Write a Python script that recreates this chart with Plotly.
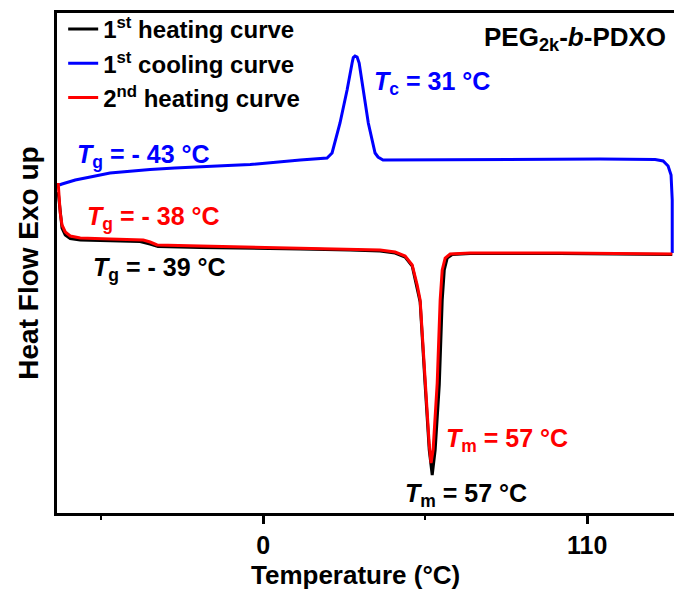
import plotly.graph_objects as go

# 1st heating curve (black)
heat1_T = [-69.6, -68.9, -68.3, -67.2, -65.5, -62.1, -52.0, -41.8, -38.4, -35.7, -21.4, -4.4, 12.6, 29.5,
           39.7, 44.8, 48.2, 50.6, 52.3, 53.3, 55.0, 56.4, 57.4, 58.4, 59.8, 60.8, 61.5, 62.5, 64.2, 70.3,
           100.8, 138.9]
heat1_Y = [64.2, 59.6, 57.0, 55.6, 54.9, 54.6, 54.5, 54.3, 53.8, 53.3, 53.1, 53.0, 52.8, 52.6,
           52.4, 52.0, 51.2, 49.4, 45.2, 42.2, 25.6, 12.6, 7.6, 12.6, 25.6, 42.6, 48.6, 51.0, 51.7, 51.9,
           51.9, 51.7]

# 1st cooling curve (blue)
cool_T = [138.9, 138.9, 138.5, 137.5, 135.8, 133.1, 114.4, 80.5, 53.3, 43.1, 40.7, 39.0, 38.0, 35.7, 34.0,
          32.6, 31.9, 31.2, 30.6, 30.2, 28.5, 26.1, 23.4, 21.7, 12.6, 4.0, -4.4, -12.0, -21.4, -30.0, -38.4,
          -45.0, -52.0, -58.7, -63.8, -68.3, -69.3]
cool_Y = [52.0, 62.6, 67.6, 69.4, 70.4, 70.7, 70.8, 70.7, 70.6, 70.5, 70.6, 71.2, 72.0, 78.0, 84.6,
          90.0, 91.2, 91.4, 91.1, 90.0, 84.6, 78.0, 72.0, 71.0, 70.6, 70.1, 69.7, 69.5, 69.3, 69.0, 68.7,
          68.4, 68.0, 67.2, 66.6, 65.8, 65.6]

# 2nd heating curve (red)
heat2_T = [-69.6, -69.3, -68.9, -68.3, -67.2, -65.5, -62.1, -52.0, -40.7, -38.4, -36.0, -21.4, -4.4, 12.6,
           29.5, 39.7, 44.8, 48.2, 50.6, 52.3, 53.3, 55.0, 56.4, 57.0, 57.7, 59.1, 60.1, 60.8, 61.8, 63.5,
           70.3, 100.8, 138.9]
heat2_Y = [66.0, 63.6, 60.0, 57.6, 56.2, 55.4, 55.0, 54.8, 54.6, 54.2, 53.6, 53.4, 53.2, 53.0,
           52.8, 52.6, 52.2, 51.4, 49.6, 45.6, 42.6, 26.0, 13.6, 10.0, 12.6, 26.0, 42.6, 48.6, 51.0, 51.8,
           52.0, 52.0, 51.8]

x_tickvals = [0, 110]
x_ticktext = ["0", "110"]

FONT = "Arial, Liberation Sans, sans-serif"

fig = go.Figure()
fig.add_trace(go.Scatter(x=heat1_T, y=heat1_Y, mode="lines", line=dict(color="black", width=3),
                         name="1<sup>st</sup> heating curve"))
fig.add_trace(go.Scatter(x=cool_T, y=cool_Y, mode="lines", line=dict(color="#0000ff", width=3),
                         name="1<sup>st</sup> cooling curve"))
fig.add_trace(go.Scatter(x=heat2_T, y=heat2_Y, mode="lines", line=dict(color="#ff0000", width=3),
                         name="2<sup>nd</sup> heating curve"))

def ann(x, y, text, color, xanchor="left", xref="x", yref="y", size=25):
    fig.add_annotation(x=x, y=y, xref=xref, yref=yref, text=text, showarrow=False,
                       xanchor=xanchor, yanchor="middle",
                       font=dict(family=FONT, size=size, color=color, weight="bold"))

ann(37.0, 86.0, "<i>T</i><sub>c</sub> = 31 °C", "#0000ff")
ann(-63.8, 71.4, "<i>T</i><sub>g</sub> = - 43 °C", "#0000ff")
ann(-60.6, 59.0, "<i>T</i><sub>g</sub> = - 38 °C", "#ff0000")
ann(-58.4, 48.8, "<i>T</i><sub>g</sub> = - 39 °C", "black")
ann(61.5, 14.6, "<i>T</i><sub>m</sub> = 57 °C", "#ff0000")
ann(47.5, 3.6, "<i>T</i><sub>m</sub> = 57 °C", "black")
ann(0.99, 0.95, "PEG<sub>2k</sub>-<i>b</i>-PDXO", "black", xanchor="right", xref="paper", yref="paper", size=26)
ann(0.483, -0.123, "Temperature (°C)", "black", xanchor="center", xref="paper", yref="paper", size=26)

fig.update_layout(
    width=675, height=590,
    margin=dict(l=57, r=1, t=13, b=77),
    paper_bgcolor="white", plot_bgcolor="white",
    font=dict(family=FONT, size=24, color="black", weight="bold"),
    showlegend=True,
    legend=dict(x=0.01, y=1.012, xanchor="left", yanchor="top", bgcolor="rgba(0,0,0,0)",
                font=dict(family=FONT, size=24, color="black", weight="bold"),
                tracegroupgap=0, itemwidth=30),
    xaxis=dict(range=[-70, 139.5], tickvals=x_tickvals, ticktext=x_ticktext,
               showline=True, linecolor="black", linewidth=3, mirror=True,
               ticks="outside", ticklen=8, tickwidth=3, tickcolor="black",
               minor=dict(ticks="outside", ticklen=4, tickwidth=2, tickcolor="black", tick0=0, dtick=55),
               showgrid=False, zeroline=False,
               tickfont=dict(family=FONT, size=25, color="black", weight="bold")),
    yaxis=dict(range=[0, 100], showticklabels=False, ticks="",
               showline=True, linecolor="black", linewidth=3, mirror=False,
               showgrid=False, zeroline=False,
               title=dict(text="Heat Flow Exo up", standoff=8,
                          font=dict(family=FONT, size=28, color="black", weight="bold"))),
)

fig.write_html("out.html")
